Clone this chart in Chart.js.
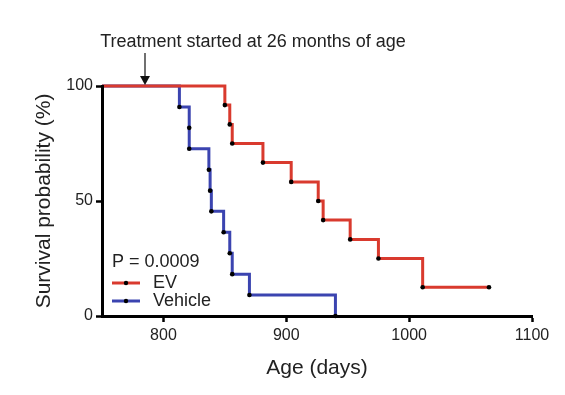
<!DOCTYPE html>
<html>
<head>
<meta charset="utf-8">
<script src="https://cdn.jsdelivr.net/npm/chart.js@4/dist/chart.umd.min.js"></script>
<style>
  html, body { margin: 0; padding: 0; background: #fff; }
  #wrap { width: 565px; height: 395px; }
</style>
</head>
<body>
<div id="wrap"><canvas id="c" width="565" height="395"></canvas></div>
<script>
// ---- data ----
const evDays      = [750, 850, 854, 856, 881, 904, 926, 930, 952, 975, 1011, 1065];
const evSurv      = [100, 91.7, 83.3, 75, 66.7, 58.3, 50, 41.7, 33.3, 25, 12.5, 12.5];
const vehicleDays = [750, 813, 821, 821, 837, 838, 839, 849, 854, 856, 870, 940];
const vehicleSurv = [100, 90.9, 81.8, 72.7, 63.6, 54.5, 45.5, 36.4, 27.3, 18.2, 9.1, 0];
const xTicks = [800, 900, 1000, 1100];
const yTicks = [0, 50, 100];
const seriesNames = ['EV', 'Vehicle'];
const pValueText = 'P = 0.0009';
const annotationText = 'Treatment started at 26 months of age';
const annotationDay = 785;

const FONT = "'Liberation Sans', Arial, Helvetica, sans-serif";
const RED = '#d93a2e';
const BLUE = '#3b44b0';
const TEXT = '#222';

function toPoints(xs, ys) { return xs.map((x, i) => ({ x: x, y: ys[i] })); }
function radii(n) { return Array.from({ length: n }, (_, i) => i === 0 ? 0 : 2.3); }

const overlay = {
  id: 'overlay',
  afterDatasetsDraw(chart) {
    const ctx = chart.ctx;
    const xs = chart.scales.x, ys = chart.scales.y;
    ctx.save();
    // annotation text + arrow
    ctx.fillStyle = TEXT;
    ctx.font = '18px ' + FONT;
    ctx.textAlign = 'center';
    ctx.textBaseline = 'middle';
    ctx.fillText(annotationText, 253, 42);
    const ax = xs.getPixelForValue(annotationDay);
    const top = ys.getPixelForValue(100);
    ctx.strokeStyle = '#111';
    ctx.lineWidth = 1.2;
    ctx.beginPath(); ctx.moveTo(ax, 53); ctx.lineTo(ax, top - 8); ctx.stroke();
    ctx.fillStyle = '#111';
    ctx.beginPath(); ctx.moveTo(ax - 5, top - 10); ctx.lineTo(ax + 5, top - 10); ctx.lineTo(ax, top - 1); ctx.closePath(); ctx.fill();
    // legend
    ctx.textAlign = 'left';
    ctx.fillStyle = TEXT;
    ctx.font = '18px ' + FONT;
    ctx.fillText(pValueText, 112, 262);
    const rows = [[seriesNames[0], RED, 283], [seriesNames[1], BLUE, 301]];
    rows.forEach(([name, col, y]) => {
      ctx.strokeStyle = col; ctx.lineWidth = 3;
      ctx.beginPath(); ctx.moveTo(112, y); ctx.lineTo(140, y); ctx.stroke();
      ctx.fillStyle = '#000';
      ctx.beginPath(); ctx.arc(126, y, 2.2, 0, Math.PI * 2); ctx.fill();
      ctx.fillStyle = TEXT;
      ctx.fillText(name, 153, y);
    });
    ctx.restore();
  }
};

new Chart(document.getElementById('c'), {
  type: 'line',
  data: {
    datasets: [
      {
        label: seriesNames[0],
        data: toPoints(evDays, evSurv),
        borderColor: RED, borderWidth: 3, stepped: 'before', clip: false,
        pointRadius: radii(evDays.length), pointBackgroundColor: '#000', pointBorderWidth: 0,
        fill: false
      },
      {
        label: seriesNames[1],
        data: toPoints(vehicleDays, vehicleSurv),
        borderColor: BLUE, borderWidth: 3, stepped: 'before', clip: false,
        pointRadius: radii(vehicleDays.length), pointBackgroundColor: '#000', pointBorderWidth: 0,
        fill: false
      }
    ]
  },
  options: {
    responsive: false,
    animation: false,
    devicePixelRatio: 1,
    layout: { padding: { top: 86, right: 33, left: 0, bottom: 0 } },
    plugins: { legend: { display: false }, tooltip: { enabled: false } },
    scales: {
      x: {
        type: 'linear', min: 750, max: 1100,
        afterBuildTicks(s) { s.ticks = xTicks.map(v => ({ value: v })); },
        afterFit(s) { s.height = 79; },
        grid: { drawOnChartArea: false, drawTicks: true, tickLength: 6, tickWidth: 2.5, tickColor: '#000' },
        border: { color: '#000', width: 3, z: 1 },
        ticks: { color: TEXT, font: { family: FONT, size: 16 }, padding: 4, maxRotation: 0, callback: v => String(v) },
        title: { display: true, text: 'Age (days)', color: TEXT, font: { family: FONT, size: 21 }, padding: { top: 14, bottom: 14 } }
      },
      y: {
        min: 0, max: 100,
        afterBuildTicks(s) { s.ticks = yTicks.map(v => ({ value: v })); },
        afterFit(s) { s.width = 102; },
        grid: { drawOnChartArea: false, drawTicks: true, tickLength: 6, tickWidth: 2.5, tickColor: '#000' },
        border: { color: '#000', width: 3, z: 1 },
        ticks: { color: TEXT, font: { family: FONT, size: 16 }, padding: 3, callback: v => String(v) },
        title: { display: true, text: 'Survival probability (%)', color: TEXT, font: { family: FONT, size: 21 }, padding: { top: 32, bottom: 32 } }
      }
    }
  },
  plugins: [overlay]
});
</script>
</body>
</html>
